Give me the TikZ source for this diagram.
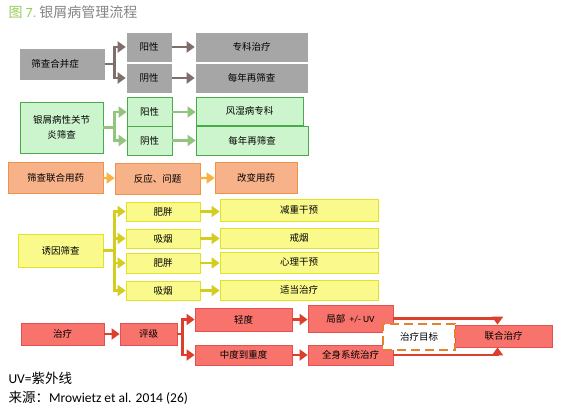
\documentclass[tikz,border=0pt]{standalone}
\usepackage{fontspec}
\setmainfont{Noto Sans CJK SC}
\newfontfamily\lat{Carlito}
\usetikzlibrary{arrows.meta}
\definecolor{boxgray}{HTML}{A6A6A6}
\definecolor{arrgray}{HTML}{7F6F6A}
\definecolor{boxgreen}{HTML}{CDF5CD}
\definecolor{edgegreen}{HTML}{4AAA4A}
\definecolor{arrgreen}{HTML}{92C47D}
\definecolor{boxorange}{HTML}{F8B28A}
\definecolor{edgeorange}{HTML}{EE9448}
\definecolor{arrorange}{HTML}{F5B341}
\definecolor{boxyellow}{HTML}{FAFA8C}
\definecolor{edgeyellow}{HTML}{E2E224}
\definecolor{arryellow}{HTML}{D4CC1E}
\definecolor{boxred}{HTML}{F8736B}
\definecolor{edgered}{HTML}{E25050}
\definecolor{arrred}{HTML}{DA402C}
\definecolor{dashorange}{HTML}{E8812E}
\definecolor{titlegreen}{HTML}{9ACD5A}
\definecolor{titlegray}{HTML}{858585}
\begin{document}
\begin{tikzpicture}[
      x=1pt,y=-1pt,
      font=\fontsize{9.5}{11}\selectfont,
      box/.style={
        rectangle,
        inner sep=0pt,
        align=center,
        text=black
      },
      graybox/.style={box,fill=boxgray,draw=white,line width=0.6pt},
      greenbox/.style={box,fill=boxgreen,draw=edgegreen,line width=0.8pt},
      orangebox/.style={box,fill=boxorange,draw=edgeorange,line width=0.8pt},
      yellowbox/.style={box,fill=boxyellow,draw=edgeyellow,line width=0.8pt},
      redbox/.style={box,fill=boxred,draw=edgered,line width=0.8pt},
      goalbox/.style={box,fill=white,draw=dashorange,line width=2.5pt,dash pattern=on 9pt off 5pt},
      arr/.style={line width=2.4pt,-{Triangle[length=8pt,width=11pt]}},
      grayarr/.style={arr,arrgray},
      greenarr/.style={arr,arrgreen},
      orangearr/.style={arr,arrorange},
      yellowarr/.style={arr,arryellow},
      redarr/.style={arr,arrred}
    ]
      \useasboundingbox[fill=white] (0,0) rectangle (580,410);

      \node[anchor=west,font=\fontsize{14}{16}\selectfont] (title) at (5,12) {\textcolor{titlegreen}{图 {\lat 7.}}\ \textcolor{titlegray}{银屑病管理流程}};

      \node (cs) at (62,64) [graybox,minimum width=86,minimum height=32]{\hspace*{-14pt}筛查合并症};
      \node (cp) at (149,47) [graybox,minimum width=46,minimum height=30]{阳性};
      \node (cn) at (149,78) [graybox,minimum width=46,minimum height=30]{阴性};
      \node (ct) at (251.5,47) [graybox,minimum width=113,minimum height=30]{专科治疗};
      \node (cy) at (251.5,78) [graybox,minimum width=113,minimum height=30]{每年再筛查};

      \node (as) at (61.5,127.5) [greenbox,minimum width=83,minimum height=51]{银屑病性关节\\[4pt]炎筛查};
      \node (ap) at (149.5,112) [greenbox,minimum width=45,minimum height=30]{阳性};
      \node (an) at (149.5,140.5) [greenbox,minimum width=45,minimum height=29]{阴性};
      \node (at) at (249.5,111) [greenbox,minimum width=107,minimum height=28]{风湿病专科};
      \node (ay) at (252,140.5) [greenbox,minimum width=112,minimum height=29]{每年再筛查};

      \node (ms) at (55.5,177.5) [orangebox,minimum width=95,minimum height=31]{筛查联合用药};
      \node (mr) at (157.5,178.5) [orangebox,minimum width=85,minimum height=31]{反应、问题};
      \node (mc) at (256,177.5) [orangebox,minimum width=82,minimum height=31]{改变用药};

      \node (ts) at (60.5,250.5) [yellowbox,minimum width=85,minimum height=33]{诱因筛查};
      \node (t1) at (163,211.5) [yellowbox,minimum width=74,minimum height=19]{肥胖};
      \node (t2) at (163,238.5) [yellowbox,minimum width=74,minimum height=19]{吸烟};
      \node (t3) at (163,263) [yellowbox,minimum width=74,minimum height=20]{肥胖};
      \node (t4) at (163,290.5) [yellowbox,minimum width=74,minimum height=19]{吸烟};
      \node (r1) at (299,210) [yellowbox,minimum width=158,minimum height=22]{减重干预};
      \node (r2) at (299,238) [yellowbox,minimum width=158,minimum height=20]{戒烟};
      \node (r3) at (299,262.5) [yellowbox,minimum width=158,minimum height=21]{心理干预};
      \node (r4) at (299,290) [yellowbox,minimum width=158,minimum height=20]{适当治疗};

      \node (zt) at (62.5,334) [redbox,minimum width=83,minimum height=22]{治疗};
      \node (zg) at (148.5,334) [redbox,minimum width=57,minimum height=22]{评级};
      \node (zl) at (243.5,319.5) [redbox,minimum width=97,minimum height=23]{轻度};
      \node (zm) at (243.5,355) [redbox,minimum width=97,minimum height=20]{中度到重度};
      \node (zj) at (350.5,318.5) [redbox,minimum width=85,minimum height=27]{局部\ \ {\lat +/- UV}};
      \node (zq) at (350.5,355) [redbox,minimum width=85,minimum height=20]{全身系统治疗};
      \node (zh) at (503.5,336) [redbox,minimum width=97,minimum height=22]{联合治疗};

      \draw[grayarr] (cs.east) -- ++(9,0) |- (cp.west);
      \draw[grayarr] (cs.east) -- ++(9,0) |- (cn.west);
      \draw[grayarr] (cp) -- (ct);
      \draw[grayarr] (cn) -- (cy);

      \draw[greenarr] (as.east) -- ++(11,0) |- (ap.west);
      \draw[greenarr] (as.east) -- ++(11,0) |- (an.west);
      \draw[greenarr] (ap.east) -- (ap.east -| at.west);
      \draw[greenarr] (an.east) -- (an.east -| ay.west);

      \draw[orangearr] (ms) -- (mr);
      \draw[orangearr] (mr) -- (mc);

      \draw[yellowarr] (ts.east) -- ++(11,0) |- (t1.west);
      \draw[yellowarr] (ts.east) -- ++(11,0) |- (t2.west);
      \draw[yellowarr] (ts.east) -- ++(11,0) |- (t3.west);
      \draw[yellowarr] (ts.east) -- ++(11,0) |- (t4.west);
      \draw[yellowarr] (t1.east) -- (t1.east -| r1.west);
      \draw[yellowarr] (t2.east) -- (t2.east -| r2.west);
      \draw[yellowarr] (t3.east) -- (t3.east -| r3.west);
      \draw[yellowarr] (t4.east) -- (t4.east -| r4.west);

      \draw[redarr] (zt) -- (zg);
      \draw[redarr] (zg.east) -- ++(5,0) |- (zl.west);
      \draw[redarr] (zg.east) -- ++(5,0) |- (zm.west);
      \draw[redarr] (zl.east) -- (zl.east -| zj.west);
      \draw[redarr] (zm) -- (zq);
      \draw[redarr] (zj.east) -| ([xshift=-6]zh.north);
      \draw[redarr] (zq.east) -| ([xshift=-6]zh.south);

      \node (zb) at (419,337) [goalbox,minimum width=72,minimum height=26]{治疗目标};

      \node[anchor=west,font=\fontsize{13.5}{16}\selectfont] (uv) at (5,378) {{\lat UV=}紫外线};
      \node[anchor=west,font=\fontsize{13.5}{16}\selectfont] (src) at (5,398) {来源：{\lat Mrowietz et al. 2014 (26)}};

    \end{tikzpicture}
\end{document}
